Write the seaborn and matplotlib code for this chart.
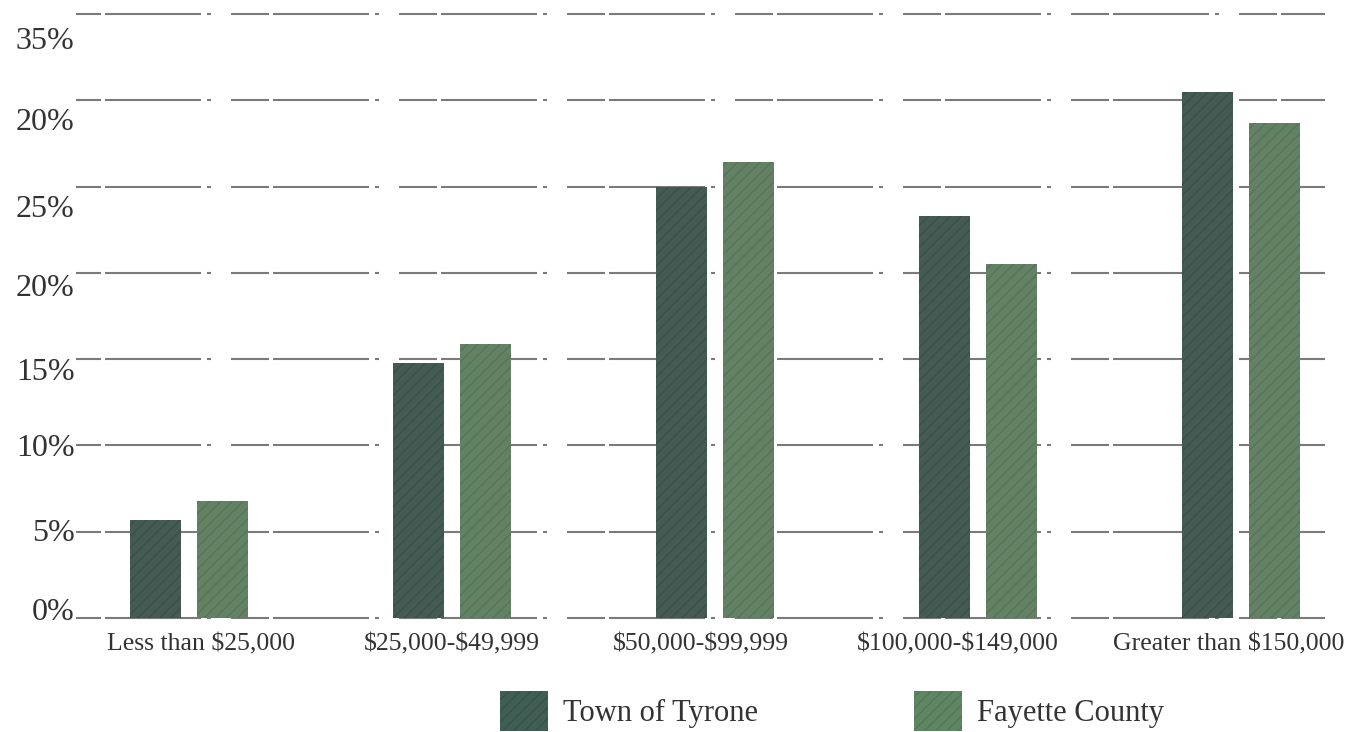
import matplotlib
matplotlib.use("Agg")
import matplotlib.pyplot as plt
import matplotlib.patches as mpatches
import matplotlib.transforms as mtransforms
import seaborn as sns
import pandas as pd

categories = ["Less than $25,000", "$25,000-$49,999", "$50,000-$99,999",
              "$100,000-$149,000", "Greater than $150,000"]
tyrone = [5.7, 14.8, 25.0, 23.3, 30.5]
fayette = [6.8, 15.9, 26.4, 20.5, 28.7]
series_names = ["Town of Tyrone", "Fayette County"]
y_ticks = [0, 5, 10, 15, 20, 25, 30, 35]
y_tick_labels = ["0%", "5%", "10%", "15%", "20%", "25%", "20%", "35%"]

df = pd.DataFrame({
    "category": categories * 2,
    "value": tyrone + fayette,
    "series": [series_names[0]] * len(categories) + [series_names[1]] * len(categories),
})

sns.set_theme(style="white")
plt.rcParams["font.family"] = ["Liberation Serif", "DejaVu Serif"]
plt.rcParams["text.parse_math"] = False
plt.rcParams["lines.scale_dashes"] = False
plt.rcParams["hatch.linewidth"] = 1.0

face = {"Town of Tyrone": "#405e53", "Fayette County": "#5f8662"}
hatchc = {"Town of Tyrone": "#375347", "Fayette County": "#527853"}
text_col = "#333333"

fig = plt.figure(figsize=(13.56, 7.32), dpi=100)
ax = fig.add_axes([76 / 1356, 114 / 732, (1325 - 76) / 1356, (618 - 14) / 732])

sns.barplot(data=df, x="category", y="value", hue="series", palette=face,
            width=0.51, gap=0.24, ax=ax, legend=False, zorder=3)

for cont, name in zip(ax.containers, series_names):
    for bar in cont:
        bar.set_hatch("///")
        bar.set_edgecolor(hatchc[name])
        bar.set_linewidth(0)

# gridlines at the major ticks; the labels in the original sit slightly off the lines
ax.yaxis.remove_overlapping_locs = False
ax.set_yticks(y_ticks)
ax.set_yticklabels([])
label_offsets = [0.5, 0.1, 0.0, -0.6, -0.7, -1.1, -1.1, -1.4]  # layout nudges (axis units)
ax.set_yticks([t + o for t, o in zip(y_ticks, label_offsets)], minor=True)
ax.set_yticklabels(y_tick_labels, minor=True, fontsize=23, color=text_col)
ax.tick_params(axis="y", which="both", length=0, pad=1)
ax.tick_params(axis="x", labelsize=18.5, labelcolor=text_col, length=0, pad=11)
ax.set_ylim(0, 35)
ax.set_xlim(-0.43, 4.32)
ax.set_xlabel("")
ax.set_ylabel("")
for s in ax.spines.values():
    s.set_visible(False)

# small horizontal nudges of the category labels (pixels), as in the original layout
label_nudge_px = [12, 0, -14, -20, -12]
for lab, dx in zip(ax.get_xticklabels(), label_nudge_px):
    lab.set_transform(lab.get_transform() +
                      mtransforms.ScaledTranslation(dx / 100, 0, fig.dpi_scale_trans))

px = 0.72
dash = (13 * px, [38 * px, 4 * px, 96 * px, 6 * px, 4 * px, 20 * px])
ax.yaxis.grid(True, which="major", color="#7a7a7a", linewidth=1.5, linestyle=dash, zorder=1)
ax.yaxis.grid(False, which="minor")
ax.set_axisbelow(True)
for gl in ax.get_ygridlines():
    gl.set_clip_on(False)

handles = [mpatches.Patch(facecolor=face[n], edgecolor=hatchc[n], hatch="///",
                          linewidth=0, label=n) for n in series_names]
fig.legend(handles=handles, loc="center", bbox_to_anchor=(832 / 1356, 21 / 732),
           ncol=2, frameon=False, fontsize=22, handlelength=1.57, handleheight=1.65,
           handletextpad=0.5, columnspacing=5.1, labelcolor=text_col,
           borderpad=0, borderaxespad=0)

fig.savefig("out.png", dpi=100, facecolor="white")
